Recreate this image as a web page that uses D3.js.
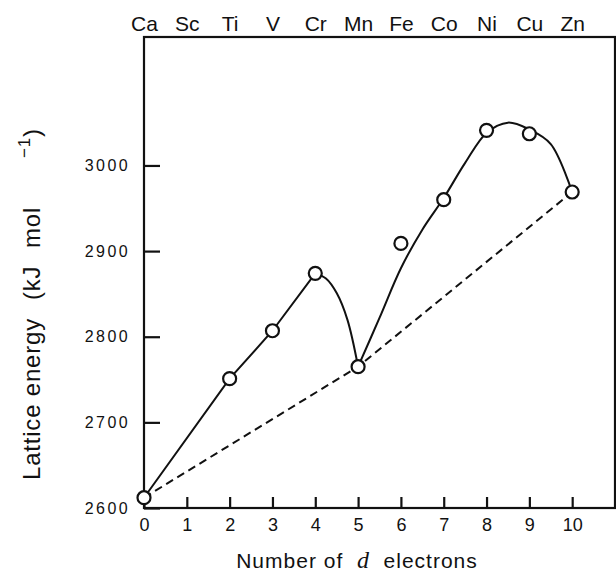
<!DOCTYPE html>
<html>
<head>
<meta charset="utf-8">
<script src="https://cdn.jsdelivr.net/npm/d3@7"></script>
<style>
  body { margin: 0; background: #fff; }
  svg { display: block; font-family: "Liberation Sans", Arial, sans-serif; }
  text { white-space: pre; }
</style>
</head>
<body>
<div id="chart"></div>
<script>
// labels along the top edge, one per d-electron count
const elements = ["Ca", "Sc", "Ti", "V", "Cr", "Mn", "Fe", "Co", "Ni", "Cu", "Zn"];
const xTicks = [0, 1, 2, 3, 4, 5, 6, 7, 8, 9, 10];
const yTicks = [2600, 2700, 2800, 2900, 3000];

// measured lattice energies (open circles)
const dCount = [0, 2, 3, 4, 5, 6, 7, 8, 9, 10];
const latticeEnergy = [2612, 2751, 2807, 2874, 2765, 2909, 2960, 3041, 3037, 2969];

// solid hand-drawn curve in three pieces
const riseX = [0, 2, 3, 4];
const riseY = [2612, 2751, 2807, 2874];
const dropX = [4, 4.25, 4.5, 4.75, 5];
const dropY = [2874, 2868, 2851, 2820, 2765];
const secondX = [5, 5.5, 6, 6.5, 7, 7.5, 8, 8.5, 9, 9.5, 10];
const secondY = [2765, 2822, 2880, 2925, 2962, 3003, 3038, 3050, 3042, 3025, 2969];

// dashed line through d0, d5, d10
const baseX = [0, 5, 10];
const baseY = [2612, 2765, 2969];

const W = 616, H = 572;
const margin = {top: 37, right: 1, bottom: 64, left: 144};
const ink = "#111";

const svg = d3.select("#chart").append("svg")
    .attr("width", W)
    .attr("height", H);

const x = d3.scaleLinear().domain([0, 11]).range([margin.left, W - margin.right]);
const y = d3.scaleLinear().domain([2600, 3150]).range([H - margin.bottom, margin.top]);

// frame
svg.append("rect")
    .attr("x", x(0))
    .attr("y", y(3150))
    .attr("width", x(11) - x(0))
    .attr("height", y(2600) - y(3150))
    .attr("fill", "none")
    .attr("stroke", ink)
    .attr("stroke-width", 2.2);

// y axis, ticks pointing inward
const yAxis = d3.axisLeft(y)
    .tickValues(yTicks)
    .tickSize(-16)
    .tickPadding(14)
    .tickFormat(d3.format("d"));

svg.append("g")
    .attr("transform", `translate(${margin.left},0)`)
    .call(yAxis)
    .call(g => g.select(".domain").remove())
    .call(g => g.selectAll("line").attr("stroke", ink).attr("stroke-width", 2.2))
    .call(g => g.selectAll("text")
        .attr("fill", ink)
        .attr("font-family", "Liberation Sans, Arial, sans-serif")
        .attr("font-size", 16)
        .attr("letter-spacing", 2.4));

// x axis
const xAxis = d3.axisBottom(x)
    .tickValues(xTicks)
    .tickSize(-11)
    .tickPadding(10)
    .tickFormat(d3.format("d"));

svg.append("g")
    .attr("transform", `translate(0,${H - margin.bottom})`)
    .call(xAxis)
    .call(g => g.select(".domain").remove())
    .call(g => g.selectAll("line").attr("stroke", ink).attr("stroke-width", 2.2))
    .call(g => g.selectAll("text")
        .attr("fill", ink)
        .attr("font-family", "Liberation Sans, Arial, sans-serif")
        .attr("font-size", 18));

// element symbols on top
const topAxis = d3.axisTop(x)
    .tickValues(xTicks)
    .tickSize(0)
    .tickPadding(6)
    .tickFormat(i => elements[i]);

svg.append("g")
    .attr("transform", `translate(0,${margin.top})`)
    .call(topAxis)
    .call(g => g.select(".domain").remove())
    .call(g => g.selectAll("text")
        .attr("fill", ink)
        .attr("font-family", "Liberation Sans, Arial, sans-serif")
        .attr("font-size", 21));

// lines
const line = d3.line().x(d => x(d[0])).y(d => y(d[1]));
const zipXY = (xs, ys) => xs.map((v, i) => [v, ys[i]]);

svg.append("path")
    .datum(zipXY(baseX, baseY))
    .attr("d", line.curve(d3.curveLinear))
    .attr("fill", "none")
    .attr("stroke", ink)
    .attr("stroke-width", 2)
    .attr("stroke-dasharray", "8,5");

svg.append("path")
    .datum(zipXY(riseX, riseY))
    .attr("d", line.curve(d3.curveLinear))
    .attr("fill", "none")
    .attr("stroke", ink)
    .attr("stroke-width", 2);

[zipXY(dropX, dropY), zipXY(secondX, secondY)].forEach(seg => {
    svg.append("path")
        .datum(seg)
        .attr("d", line.curve(d3.curveCatmullRom.alpha(0.5)))
        .attr("fill", "none")
        .attr("stroke", ink)
        .attr("stroke-width", 2);
});

// data points
svg.append("g")
    .selectAll("circle")
    .data(zipXY(dCount, latticeEnergy))
    .enter()
    .append("circle")
    .attr("cx", d => x(d[0]))
    .attr("cy", d => y(d[1]))
    .attr("r", 6.5)
    .attr("fill", "#fff")
    .attr("stroke", ink)
    .attr("stroke-width", 2.2);

// axis titles
const xTitle = svg.append("text")
    .attr("x", 357)
    .attr("y", 568)
    .attr("text-anchor", "middle")
    .attr("font-size", 21)
    .attr("letter-spacing", 1)
    .attr("fill", ink);
xTitle.append("tspan").text("Number of  ");
xTitle.append("tspan")
    .attr("font-family", "Liberation Serif, serif")
    .attr("font-style", "italic")
    .attr("font-size", 24)
    .text("d");
xTitle.append("tspan").text("  electrons");

const yTitle = svg.append("text")
    .attr("transform", "translate(40,480) rotate(-90)")
    .attr("font-size", 24)
    .attr("letter-spacing", 0.8)
    .attr("fill", ink);
yTitle.append("tspan").attr("x", 0).text("Lattice energy");
yTitle.append("tspan").attr("x", 180).text("(kJ");
yTitle.append("tspan").attr("x", 232).text("mol");
yTitle.append("tspan")
    .attr("x", 322)
    .attr("dy", -10)
    .attr("font-size", 17)
    .text("\u22121");
yTitle.append("tspan")
    .attr("dy", 10)
    .text(")");
</script>
</body>
</html>
